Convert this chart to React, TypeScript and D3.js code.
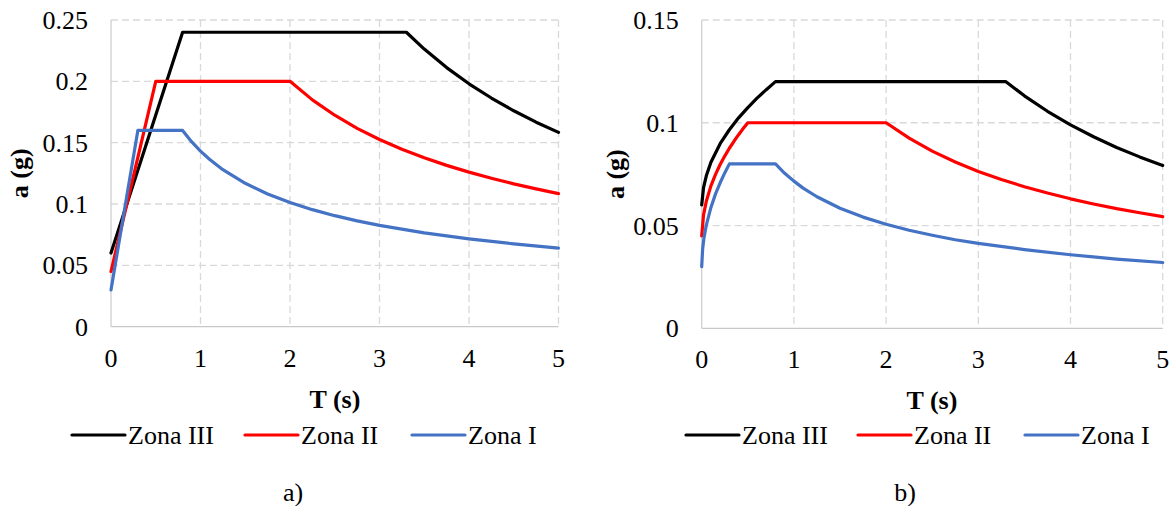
import React from "react";
import * as d3 from "d3";

// ---- Data ----
// Chart a)
const aZona3T = [0, 0.8, 3.3, 3.5, 3.75, 4, 4.25, 4.5, 4.75, 5];
const aZona3V = [0.06, 0.24, 0.24, 0.2263, 0.2112, 0.198, 0.1864, 0.176, 0.1667, 0.1584];
const aZona2T = [0, 0.5, 2, 2.25, 2.5, 2.75, 3, 3.25, 3.5, 3.75, 4, 4.25, 4.5, 4.75, 5];
const aZona2V = [0.045, 0.2, 0.2, 0.1849, 0.1724, 0.1617, 0.1526, 0.1447, 0.1377, 0.1315, 0.126, 0.121, 0.1164, 0.1123, 0.1085];
const aZona1T = [0, 0.3, 0.8, 0.9, 1.0, 1.1, 1.25, 1.5, 1.75, 2, 2.25, 2.5, 2.75, 3, 3.5, 4, 4.5, 5];
const aZona1V = [0.03, 0.16, 0.16, 0.1508, 0.1431, 0.1365, 0.128, 0.1169, 0.1082, 0.1012, 0.0954, 0.0905, 0.0863, 0.0826, 0.0765, 0.0716, 0.0675, 0.064];

// Chart b)
const bZona3T = [0, 0.02, 0.05, 0.1, 0.2, 0.3, 0.4, 0.5, 0.6, 0.7, 0.8, 3.3, 3.5, 3.75, 4, 4.25, 4.5, 4.75, 5];
const bZona3V = [0.06, 0.0685, 0.0742, 0.0808, 0.0898, 0.0966, 0.1024, 0.1074, 0.112, 0.1161, 0.12, 0.12, 0.1131, 0.1056, 0.099, 0.0932, 0.088, 0.0834, 0.0792];
const bZona2T = [0, 0.02, 0.05, 0.1, 0.15, 0.2, 0.25, 0.3, 0.35, 0.4, 0.45, 0.5, 2, 2.25, 2.5, 2.75, 3, 3.25, 3.5, 3.75, 4, 4.25, 4.5, 4.75, 5];
const bZona2V = [0.045, 0.0552, 0.0618, 0.0693, 0.0749, 0.0797, 0.0838, 0.0876, 0.091, 0.0942, 0.0972, 0.1, 0.1, 0.0925, 0.0862, 0.0809, 0.0763, 0.0724, 0.0689, 0.0658, 0.063, 0.0605, 0.0582, 0.0562, 0.0543];
const bZona1T = [0, 0.01, 0.025, 0.05, 0.1, 0.15, 0.2, 0.25, 0.3, 0.8, 0.9, 1, 1.1, 1.25, 1.5, 1.75, 2, 2.25, 2.5, 2.75, 3, 3.5, 4, 4.5, 5];
const bZona1V = [0.03, 0.0385, 0.0441, 0.0502, 0.0588, 0.0654, 0.0708, 0.0756, 0.08, 0.08, 0.0754, 0.0716, 0.0682, 0.064, 0.0584, 0.0541, 0.0506, 0.0477, 0.0453, 0.0431, 0.0413, 0.0383, 0.0358, 0.0337, 0.032];

const xTicks = [0, 1, 2, 3, 4, 5];
const aYTicks = [0, 0.05, 0.1, 0.15, 0.2, 0.25];
const bYTicks = [0, 0.05, 0.1, 0.15];
const seriesNames = ["Zona III", "Zona II", "Zona I"];
const seriesColors = ["#000000", "#ff0000", "#4472c4"];

const FONT = "Liberation Serif";
const FS = 26;

type Series = { name: string; color: string; t: number[]; v: number[] };

function Chart(props: {
  left: number; right: number; top: number; bottom: number;
  yMax: number; yTicks: number[]; series: Series[];
  yLabelX: number; tag: string; legendX: number[]; tagX: number; titleX: number;
}) {
  const { left, right, top, bottom, yMax, yTicks, series } = props;
  const x = d3.scaleLinear().domain([0, 5]).range([left, right]);
  const y = d3.scaleLinear().domain([0, yMax]).range([bottom, top]);
  const line = d3.line<[number, number]>().x((d) => x(d[0])).y((d) => y(d[1]));
  const grid = "#d9d9d9";
  const fmt = (v: number) => String(+v.toFixed(2));
  return (
    <g fontFamily={FONT}>
      {xTicks.filter((t) => t > 0).map((t) => (
        <line key={"gx" + t} x1={x(t)} x2={x(t)} y1={top} y2={bottom} stroke={grid} strokeWidth={1.3} strokeDasharray="7,4" />
      ))}
      {yTicks.filter((t) => t > 0).map((t) => (
        <line key={"gy" + t} x1={left} x2={right} y1={y(t)} y2={y(t)} stroke={grid} strokeWidth={1.3} strokeDasharray="7,4" />
      ))}
      <line x1={left} x2={left} y1={top} y2={bottom} stroke="#d0d0d0" strokeWidth={1.3} />
      <line x1={left} x2={right} y1={bottom} y2={bottom} stroke="#c8c8c8" strokeWidth={1.3} />
      {yTicks.map((t) => (
        <text key={"yl" + t} x={left - 23} y={y(t) + 9} textAnchor="end" fontSize={FS} fill="#000">{fmt(t)}</text>
      ))}
      {xTicks.map((t) => (
        <text key={"xl" + t} x={x(t)} y={bottom + 40} textAnchor="middle" fontSize={FS} fill="#000">{t}</text>
      ))}
      {series.map((s) => (
        <path key={s.name} d={line(s.t.map((t, i) => [t, s.v[i]] as [number, number])) || ""} fill="none" stroke={s.color} strokeWidth={3.2} strokeLinejoin="round" strokeLinecap="round" />
      ))}
      <text x={props.titleX} y={bottom + 81} textAnchor="middle" fontSize={FS} fontWeight="bold">T (s)</text>
      <text transform={`translate(${props.yLabelX},${(top + bottom) / 2}) rotate(-90)`} textAnchor="middle" fontSize={FS} fontWeight="bold">a (g)</text>
      {series.map((s, i) => (
        <g key={"lg" + s.name}>
          <line x1={props.legendX[i]} x2={props.legendX[i] + 53} y1={435} y2={435} stroke={s.color} strokeWidth={3.2} strokeLinecap="round" />
          <text x={props.legendX[i] + 56} y={444} fontSize={FS} fill="#000">{s.name}</text>
        </g>
      ))}
      <text x={props.tagX} y={501} textAnchor="middle" fontSize={FS}>{props.tag}</text>
    </g>
  );
}

export default function App() {
  const aSeries: Series[] = [
    { name: seriesNames[0], color: seriesColors[0], t: aZona3T, v: aZona3V },
    { name: seriesNames[1], color: seriesColors[1], t: aZona2T, v: aZona2V },
    { name: seriesNames[2], color: seriesColors[2], t: aZona1T, v: aZona1V },
  ];
  const bSeries: Series[] = [
    { name: seriesNames[0], color: seriesColors[0], t: bZona3T, v: bZona3V },
    { name: seriesNames[1], color: seriesColors[1], t: bZona2T, v: bZona2V },
    { name: seriesNames[2], color: seriesColors[2], t: bZona1T, v: bZona1V },
  ];
  return (
    <svg width={1172} height={506} style={{ position: "absolute", left: 0, top: 0, background: "#fff" }}>
      <rect width={1172} height={506} fill="#fff" />
      <Chart left={111} right={558.5} top={20} bottom={326.7} yMax={0.25} yTicks={aYTicks} series={aSeries}
        yLabelX={28} tag="a)" legendX={[72, 245, 412]} tagX={293} titleX={335} />
      <Chart left={701.7} right={1162.7} top={20} bottom={328.3} yMax={0.15} yTicks={bYTicks} series={bSeries}
        yLabelX={624} tag="b)" legendX={[686, 858, 1025]} tagX={905} titleX={932} />
    </svg>
  );
}
